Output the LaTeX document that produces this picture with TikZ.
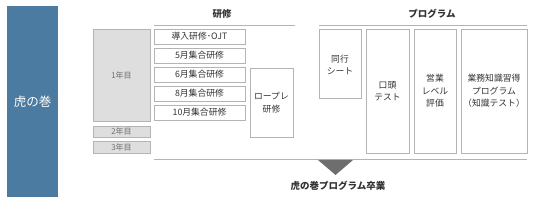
\documentclass[tikz,border=0pt]{standalone}
\usepackage{fontspec}
\setmainfont{Noto Sans CJK JP}
\definecolor{tigerblue}{HTML}{4B7BA0}
\definecolor{boxline}{HTML}{B4B4B4}
\definecolor{yearfill}{HTML}{DEDEDE}
\definecolor{txtgray}{HTML}{333333}
\definecolor{yeartxt}{HTML}{707070}
\definecolor{trigray}{HTML}{6E6E6E}
\begin{document}
\begin{tikzpicture}[x=1pt,y=-1pt,
  cell/.style={draw=boxline,line width=0.7pt,fill=white,inner sep=0pt,text=txtgray,font=\fontsize{8.8}{12.5}\selectfont,align=center},
  yearbox/.style={cell,fill=yearfill,text=yeartxt,font=\fontsize{8}{9}\selectfont},
  head/.style={font=\fontsize{9.5}{11}\selectfont\bfseries,text=txtgray,inner sep=0pt},
  rule/.style={draw=boxline,line width=0.7pt}]
\useasboundingbox (0,0) rectangle (533,203);
% left label
\node[fill=tigerblue,minimum width=51pt,minimum height=191pt,inner sep=0pt,text=white,font=\fontsize{12.5}{14}\selectfont] (tora) at (32.5,101.5) {虎の巻};
% years
\node[yearbox,minimum width=57pt,minimum height=92pt] (y1) at (121.5,75) {1年目};
\node[yearbox,minimum width=57pt,minimum height=11pt] (y2) at (121.5,131.5) {2年目};
\node[yearbox,minimum width=57pt,minimum height=12pt] (y3) at (121.5,147) {3年目};
% headings and rules
\node[head] (hk) at (222,14) {研修};
\node[head] (hp) at (432,14) {プログラム};
\coordinate (k1) at (154,25); \coordinate (k2) at (295,25);
\coordinate (p1) at (319,25); \coordinate (p2) at (527,25);
\coordinate (b1) at (154,159); \coordinate (b2) at (527,159);
\draw[rule] (k1) -- (k2);
\draw[rule] (p1) -- (p2);
\draw[rule] (b1) -- (b2);
% training boxes
\node[cell,minimum width=91pt,minimum height=15pt] (t1) at (199.5,36.5) {導入研修･OJT};
\node[cell,minimum width=91pt,minimum height=15pt] (t2) at (199.5,55.5) {5月集合研修};
\node[cell,minimum width=91pt,minimum height=15pt] (t3) at (199.5,74.5) {6月集合研修};
\node[cell,minimum width=91pt,minimum height=15pt] (t4) at (199.5,93.5) {8月集合研修};
\node[cell,minimum width=91pt,minimum height=15pt] (t5) at (199.5,112.5) {10月集合研修};
\node[cell,minimum width=43pt,minimum height=69pt] (rp) at (271.5,102.5) {ロープレ\\研修};
% program boxes
\node[cell,minimum width=42pt,minimum height=69pt,anchor=north] (g1) at (340,29) {};
\node[text=txtgray,font=\fontsize{8.8}{12.5}\selectfont,align=center,inner sep=0pt] (g1t) at (340,65) {同行\\シート};
\node[cell,minimum width=43pt,minimum height=124pt] (g2) at (387.5,91) {口頭\\テスト};
\node[cell,minimum width=42pt,minimum height=124pt] (g3) at (435,91) {営業\\レベル\\評価};
\node[cell,minimum width=66pt,minimum height=124pt] (g4) at (494,91) {業務知識習得\\プログラム\\（知識テスト）};
% triangle and graduation
\coordinate (ta) at (318,160); \coordinate (tb) at (353,160); \coordinate (tc) at (335.5,175);
\fill[trigray] (ta) -- (tb) -- (tc) -- cycle;
\node[head] (grad) at (338,186) {虎の巻プログラム卒業};
\end{tikzpicture}
\end{document}
